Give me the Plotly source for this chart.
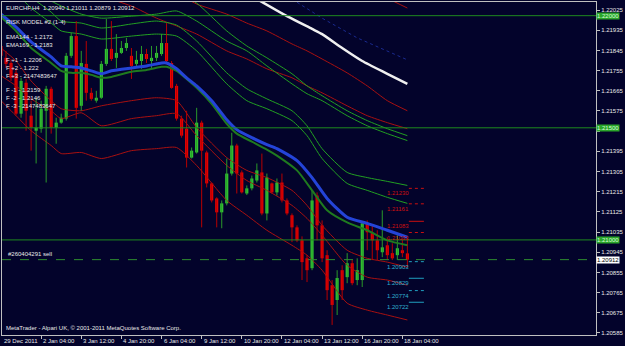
import plotly.graph_objects as go

# ---------------- data ----------------
bars = list(range(82))
opens = [1.21865, 1.21812, 1.21789, 1.21745, 1.21563, 1.21701, 1.21554, 1.21487, 1.21496, 1.21576,
         1.21674, 1.21501, 1.21523, 1.21541, 1.21821, 1.21909, 1.21598, 1.21785, 1.21656, 1.21621,
         1.21634, 1.21785, 1.21852, 1.21812, 1.21834, 1.21856, 1.21821, 1.21785, 1.21798, 1.21829,
         1.21798, 1.21812, 1.21829, 1.21878, 1.21789, 1.21687, 1.21541, 1.21496, 1.21367, 1.21390,
         1.21523, 1.21390, 1.21252, 1.21185, 1.21123, 1.21163, 1.21296, 1.21421, 1.21301, 1.21207,
         1.21230, 1.21265, 1.21301, 1.21118, 1.21252, 1.21212, 1.21256, 1.21176, 1.21110, 1.21056,
         1.20998, 1.20918, 1.20874, 1.21198, 1.21065, 1.20932, 1.20798, 1.20732, 1.20865, 1.20834,
         1.20896, 1.20821, 1.20821, 1.21074, 1.21030, 1.20998, 1.20945, 1.20976, 1.20941, 1.20932,
         1.20954, 1.20940]
highs = [1.21887, 1.21843, 1.21807, 1.21763, 1.21723, 1.21718, 1.21621, 1.21634, 1.21621, 1.21687,
         1.21683, 1.21545, 1.21563, 1.21834, 1.21923, 1.21976, 1.21843, 1.21887, 1.21678, 1.21665,
         1.21798, 1.21985, 1.21976, 1.21918, 1.21887, 1.21901, 1.21856, 1.21843, 1.21865, 1.21852,
         1.21865, 1.21865, 1.21918, 1.21967, 1.21798, 1.21696, 1.21554, 1.21576, 1.21412, 1.21589,
         1.21532, 1.21398, 1.21256, 1.21190, 1.21176, 1.21363, 1.21478, 1.21429, 1.21310, 1.21243,
         1.21287, 1.21341, 1.21385, 1.21296, 1.21256, 1.21274, 1.21296, 1.21185, 1.21118, 1.21065,
         1.21016, 1.20932, 1.21221, 1.21212, 1.21087, 1.20954, 1.20821, 1.20865, 1.20887, 1.20941,
         1.20910, 1.20918, 1.21078, 1.21087, 1.21065, 1.21043, 1.21132, 1.21012, 1.20985, 1.21021,
         1.21007, 1.21011]
lows = [1.21798, 1.21767, 1.21709, 1.21554, 1.21545, 1.21487, 1.21398, 1.21341, 1.21478, 1.21256,
        1.21474, 1.21429, 1.21518, 1.21532, 1.21812, 1.21541, 1.21576, 1.21621, 1.21621, 1.21612,
        1.21629, 1.21776, 1.21798, 1.21767, 1.21829, 1.21843, 1.21718, 1.21767, 1.21763, 1.21789,
        1.21767, 1.21798, 1.21821, 1.21789, 1.21674, 1.21532, 1.21456, 1.21323, 1.21363, 1.21385,
        1.21056, 1.21234, 1.21167, 1.21056, 1.21052, 1.21154, 1.21287, 1.21207, 1.21207, 1.21200,
        1.21221, 1.21256, 1.21110, 1.21087, 1.21207, 1.21198, 1.21167, 1.21110, 1.20990, 1.20990,
        1.20821, 1.20812, 1.20865, 1.20998, 1.20901, 1.20732, 1.20621, 1.20665, 1.20732, 1.20807,
        1.20798, 1.20798, 1.20790, 1.20954, 1.20910, 1.20910, 1.20923, 1.20910, 1.20910, 1.20910,
        1.20923, 1.20879]
closes = [1.21821, 1.21785, 1.21723, 1.21563, 1.21709, 1.21576, 1.21501, 1.21501, 1.21585, 1.21674,
          1.21501, 1.21523, 1.21545, 1.21821, 1.21909, 1.21589, 1.21789, 1.21656, 1.21629, 1.21634,
          1.21785, 1.21852, 1.21807, 1.21834, 1.21856, 1.21878, 1.21776, 1.21803, 1.21829, 1.21807,
          1.21812, 1.21834, 1.21878, 1.21798, 1.21678, 1.21541, 1.21465, 1.21367, 1.21398, 1.21523,
          1.21398, 1.21252, 1.21176, 1.21123, 1.21163, 1.21296, 1.21421, 1.21296, 1.21212, 1.21230,
          1.21274, 1.21310, 1.21118, 1.21278, 1.21212, 1.21256, 1.21176, 1.21118, 1.21056, 1.20998,
          1.20901, 1.20865, 1.21176, 1.21065, 1.20918, 1.20776, 1.20710, 1.20830, 1.20776, 1.20896,
          1.20807, 1.20865, 1.21074, 1.21034, 1.20998, 1.20954, 1.20967, 1.20932, 1.20918, 1.20963,
          1.20941, 1.20912]

# EMA lines (value at selected bars)
line_bars = [0, 3, 6, 10, 12, 14, 16, 18, 20, 22, 26, 29, 32, 33, 35, 37, 39, 42, 45, 47,
             50, 53, 55, 59, 62, 65, 69, 73, 77, 81]
ema144 = [1.22007, 1.21949, 1.21883, 1.21816, 1.21776, 1.21772, 1.21767, 1.21754, 1.21741, 1.21754,
          1.21767, 1.21776, 1.21789, 1.21789, 1.21763, 1.21723, 1.21687, 1.21621, 1.21536, 1.21492,
          1.21456, 1.21425, 1.21407, 1.21354, 1.21278, 1.21185, 1.21101, 1.21074, 1.21043, 1.21012]
ema169 = [1.21994, 1.21932, 1.21856, 1.21789, 1.21754, 1.21745, 1.21745, 1.21736, 1.21723, 1.21727,
          1.21750, 1.21758, 1.21772, 1.21772, 1.21754, 1.21718, 1.21678, 1.21607, 1.21518, 1.21474,
          1.21438, 1.21403, 1.21376, 1.21310, 1.21221, 1.21132, 1.21078, 1.21043, 1.20998, 1.20976]

# band lines (value at selected bars)
band_bars = [0, 3, 6, 10, 12, 16, 20, 26, 31, 35, 39, 45, 49, 53, 58, 61, 64, 69, 73, 77, 81]
green_up0 = [1.22158, 1.22101, 1.22034, 1.21967, 1.21932, 1.21918, 1.21896, 1.21909, 1.21918, 1.21909,
             1.21843, 1.21696, 1.21621, 1.21585, 1.21532, 1.21465, 1.21363, 1.21252, 1.21221, 1.21190,
             1.21163]
green_up1 = [1.22207, 1.22149, 1.22083, 1.22016, 1.21976, 1.21967, 1.21945, 1.21963, 1.21976, 1.21958,
             1.21887, 1.21745, 1.21674, 1.21629, 1.21576, 1.21509, 1.21407, 1.21301, 1.21278, 1.21261,
             1.21243]
green_up2 = [1.22198, 1.22154, 1.22109, 1.22065, 1.22043, 1.22007, 1.21989, 1.21998, 1.22007, 1.22021,
             1.21976, 1.21887, 1.21843, 1.21776, 1.21696, 1.21652, 1.21621, 1.21554, 1.21509, 1.21474,
             1.21443]
green_up3 = [1.22332, 1.22287, 1.22243, 1.22198, 1.22176, 1.22154, 1.22132, 1.22132, 1.22132, 1.22109,
             1.22056, 1.21932, 1.21865, 1.21812, 1.21741, 1.21687, 1.21643, 1.21576, 1.21532, 1.21496,
             1.21465]
red_up1 = [1.22332, 1.22309, 1.22287, 1.22265, 1.22252, 1.22234, 1.22221, 1.22198, 1.22154, 1.22101,
           1.22052, 1.22007, 1.21967, 1.21932, 1.21874, 1.21843, 1.21807, 1.21745, 1.21687, 1.21621,
           1.21576]
red_up2 = [1.22243, 1.22221, 1.22198, 1.22176, 1.22154, 1.22118, 1.22087, 1.22043, 1.21989, 1.21954,
           1.21918, 1.21843, 1.21807, 1.21763, 1.21723, 1.21687, 1.21656, 1.21598, 1.21554, 1.21523,
           1.21496]
red_dn1 = [1.21856, 1.21798, 1.21709, 1.21621, 1.21585, 1.21576, 1.21598, 1.21621, 1.21634, 1.21621,
           1.21501, 1.21367, 1.21310, 1.21278, 1.21221, 1.21154, 1.21065, 1.20954, 1.20918, 1.20901,
           1.20878]
red_dn2 = [1.21732, 1.21687, 1.21629, 1.21576, 1.21541, 1.21567, 1.21509, 1.21541, 1.21554, 1.21563,
           1.21465, 1.21332, 1.21265, 1.21221, 1.21154, 1.21096, 1.21021, 1.20887, 1.20834, 1.20821,
           1.20798]
red_dn3 = [1.21621, 1.21554, 1.21487, 1.21421, 1.21385, 1.21390, 1.21363, 1.21398, 1.21407, 1.21412,
           1.21332, 1.21176, 1.21110, 1.21043, 1.20976, 1.20932, 1.20865, 1.20718, 1.20687, 1.20665,
           1.20643]
red_up3_bars = [69, 73, 77, 81]
red_up3 = [1.22176, 1.22127, 1.22078, 1.22034]

white_bars = [51, 57, 62, 64, 68, 72, 77, 81]
white_line = [1.22074, 1.21998, 1.21941, 1.21918, 1.21856, 1.21798, 1.21741, 1.21696]
dot_bars = [58, 64, 71, 81]
dot_blue = [1.22074, 1.21989, 1.21901, 1.21803]

tick_bars = [0, 8, 16, 24, 32, 40, 48, 56, 64, 72, 80]
tick_text = ["29 Dec 2011", "2 Jan 04:00", "3 Jan 12:00", "4 Jan 20:00", "6 Jan 04:00",
             "9 Jan 12:00", "10 Jan 20:00", "12 Jan 04:00", "13 Jan 12:00", "16 Jan 20:00",
             "18 Jan 04:00"]
price_ticks = [1.22025, 1.21935, 1.21845, 1.21755, 1.21665, 1.21575, 1.21485, 1.21395, 1.21305,
               1.21215, 1.21125, 1.21035, 1.20945, 1.20855, 1.20765, 1.20675, 1.20585]

round_levels = [1.22000, 1.21500, 1.21000]
bid_price = 1.20912
order_price = 1.20912
target_up = [1.21230, 1.21161, 1.21083, 1.21033]
target_up_dash = ["dot", "dot", "solid", "dot"]
target_dn = [1.20903, 1.20829, 1.20774, 1.20722]
target_dn_dash = ["dot", "solid", "dot", "solid"]

info_lines = ["EURCHF,H4  1.20940 1.21011 1.20879 1.20912", "RISK MODEL #2 (1-4)",
              "EMA144 - 1.2172", "EMA169 - 1.2183",
              "F +1 - 1.2206", "F +2 - 1.222", "F +3 - 2147483647",
              "F -1 - 1.2159", "F -2 - 1.2146", "F -3 - 2147483647"]

# ---------------- figure ----------------
BG = "#03032b"
UP = "#33cc33"
DN = "#ee0000"
UP_WICK = "#2a9a2a"
DN_WICK = "#b80000"
GREEN_BAND = "#22a022"
RED_BAND = "#a81010"

fig = go.Figure()

def add_line(xs, ys, color, width, dash="solid", shape="spline"):
    fig.add_trace(go.Scatter(x=xs, y=ys, mode="lines",
                             line=dict(color=color, width=width, dash=dash, shape=shape, smoothing=0.6),
                             hoverinfo="skip", showlegend=False))

add_line(red_up3_bars, red_up3, RED_BAND, 1)
add_line(band_bars, red_up1, RED_BAND, 1)
add_line(band_bars, red_up2, RED_BAND, 1)
add_line(band_bars, green_up3, GREEN_BAND, 1)
add_line(band_bars, green_up2, GREEN_BAND, 1)
add_line(band_bars, green_up1, GREEN_BAND, 1)
add_line(band_bars, green_up0, GREEN_BAND, 1)
add_line(band_bars, red_dn1, RED_BAND, 1)
add_line(band_bars, red_dn2, RED_BAND, 1)
add_line(band_bars, red_dn3, RED_BAND, 1)
add_line(dot_bars, dot_blue, "#1a2a90", 1, "dot", "linear")
add_line(white_bars, white_line, "#f0f0f0", 2.5, "solid", "spline")

for color, wcolor, up in ((UP, UP_WICK, True), (DN, DN_WICK, False)):
    wx, wy = [], []
    bx, bh, bb = [], [], []
    for i, o, h, l, c in zip(bars, opens, highs, lows, closes):
        if (c >= o) == up:
            wx += [i, i, None]
            wy += [l, h, None]
            bx.append(i)
            bb.append(min(o, c))
            bh.append(max(abs(c - o), 0.00003))
    fig.add_trace(go.Scatter(x=wx, y=wy, mode="lines", line=dict(color=wcolor, width=1),
                             hoverinfo="skip", showlegend=False))
    fig.add_trace(go.Bar(x=bx, y=bh, base=bb, width=0.62, marker=dict(color=color, line=dict(width=0)),
                         hoverinfo="skip", showlegend=False))

add_line(line_bars, ema169, "#1f7a1f", 2)
add_line(line_bars, ema144, "#2444d8", 3)

shapes = []
for lv in round_levels:
    shapes.append(dict(type="line", xref="paper", x0=0, x1=1, yref="y", y0=lv, y1=lv,
                       line=dict(color="#1f8a1f", width=1)))
shapes.append(dict(type="line", xref="paper", x0=0, x1=1, yref="y", y0=order_price, y1=order_price,
                   line=dict(color="#2f8f2f", width=1, dash="dash")))
for lv, d in zip(target_up, target_up_dash):
    shapes.append(dict(type="line", xref="x", x0=81.3, x1=84.3, yref="y", y0=lv, y1=lv,
                       line=dict(color="#cc1010", width=1, dash=d)))
for lv, d in zip(target_dn, target_dn_dash):
    shapes.append(dict(type="line", xref="x", x0=81.3, x1=84.3, yref="y", y0=lv, y1=lv,
                       line=dict(color="#20a0c0", width=1, dash=d)))

ann = []
F = "Liberation Sans"
info_y = [6, 20, 35, 43, 58, 66, 74, 88, 96, 104]
for t, yy in zip(info_lines, info_y):
    ann.append(dict(text=t, xref="paper", yref="paper", x=0.003, y=1 - yy / 334.0, xanchor="left",
                    yanchor="middle", showarrow=False, font=dict(family=F, size=6, color="#e8e8e8")))
ann.append(dict(text="#260404291 sell", xref="paper", yref="y", x=0.006, y=order_price, xanchor="left",
                yanchor="bottom", yshift=1, showarrow=False, font=dict(family=F, size=6, color="#e8e8e8")))
ann.append(dict(text="MetaTrader - Alpari UK, \u00a9 2001-2011 MetaQuotes Software Corp.", xref="paper",
                yref="paper", x=0.003, y=0.005, xanchor="left", yanchor="bottom", showarrow=False,
                font=dict(family=F, size=6, color="#e8e8e8")))
for b, t in zip(tick_bars, tick_text):
    ann.append(dict(text=t, xref="x", yref="paper", x=max(b, 0.25), y=0, xanchor="left", yanchor="top",
                    yshift=-1, showarrow=False, font=dict(family=F, size=6, color="#e8e8e8")))
for lv in round_levels:
    ann.append(dict(text="%.5f" % lv, xref="paper", yref="y", x=1, y=lv, xanchor="left", yanchor="middle",
                    showarrow=False, bgcolor="#2aa52a", font=dict(family=F, size=6, color="#d8ffd8"),
                    borderpad=0))
ann.append(dict(text="%.5f" % bid_price, xref="paper", yref="y", x=1, y=bid_price, xanchor="left",
                yanchor="middle", showarrow=False, bgcolor="#ffffff", font=dict(family=F, size=6, color="#000000"),
                borderpad=0))
for lv in target_up:
    ann.append(dict(text="%.5f" % lv, xref="x", yref="y", x=76.6, y=lv, xanchor="left", yanchor="top",
                    showarrow=False, font=dict(family=F, size=6, color="#cc1010")))
for lv in target_dn:
    ann.append(dict(text="%.5f" % lv, xref="x", yref="y", x=76.6, y=lv, xanchor="left", yanchor="top",
                    showarrow=False, font=dict(family=F, size=6, color="#30b0d0")))

tick_labels = ["" if abs(v - 1.21485) < 1e-9 else "%.5f" % v for v in price_ticks]

fig.update_layout(
    width=625, height=346, margin=dict(l=2, r=24, t=1, b=11),
    paper_bgcolor=BG, plot_bgcolor=BG, barmode="overlay", showlegend=False,
    shapes=shapes, annotations=ann,
    xaxis=dict(range=[0.2, 118.6], showgrid=False, zeroline=False, showline=True, linecolor="#c0c0c0",
               linewidth=1, mirror=True, ticks="outside", ticklen=3, tickcolor="#c0c0c0",
               tickvals=tick_bars, showticklabels=False),
    yaxis=dict(range=[1.20576, 1.22061], side="right", showgrid=False, zeroline=False, showline=True,
               linecolor="#c0c0c0", linewidth=1, mirror=True, ticks="outside", ticklen=3,
               tickcolor="#c0c0c0", tickvals=price_ticks, ticktext=tick_labels,
               tickfont=dict(family=F, size=6, color="#e8e8e8")),
)

fig.write_html("out.html")
